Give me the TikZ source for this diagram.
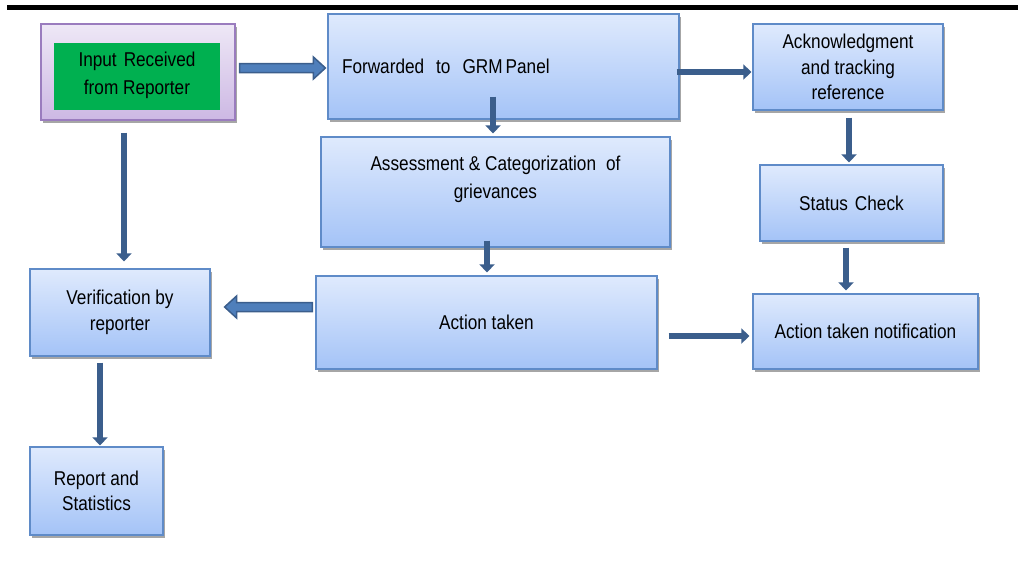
\documentclass[tikz,border=0pt]{standalone}
\usepackage{fontspec}
\setmainfont[FakeStretch=0.86]{Liberation Sans}
\usetikzlibrary{arrows.meta,shadows,calc}
\definecolor{boxtop}{HTML}{DFEAFD}
\definecolor{boxbot}{HTML}{A4C3F7}
\definecolor{boxborder}{HTML}{5F8BC8}
\definecolor{lavtop}{HTML}{EEE8F6}
\definecolor{lavbot}{HTML}{CDB8E4}
\definecolor{lavborder}{HTML}{9A7CBE}
\definecolor{ingreen}{HTML}{00B050}
\definecolor{arrowc}{HTML}{3B5E8C}
\definecolor{arrowfill}{HTML}{4F7FBB}
\begin{document}
\begin{tikzpicture}[x=1pt,y=-1pt,
  box/.style={draw=boxborder, line width=1.2pt, top color=boxtop, bottom color=boxbot,
    drop shadow={shadow xshift=2pt, shadow yshift=-2.5pt, fill=black, opacity=0.35},
    align=center, inner sep=0pt, font=\fontsize{20}{25.5}\selectfont},
  lavbox/.style={box, draw=lavborder, top color=lavtop, bottom color=lavbot},
  greenbox/.style={fill=ingreen, inner sep=0pt, align=center, font=\fontsize{20}{28}\selectfont},
  conn/.style={draw=arrowc, line width=6.5pt, -{Triangle[width=15pt,length=8pt]}},
  barrow/.style={fill=arrowfill, draw=arrowc, line width=1.5pt, line join=miter}
]
\useasboundingbox (0,0) rectangle (1021,573);
\draw[line width=4.5pt] (7,7.5) -- (1018,7.5);

\node[lavbox, minimum width=194pt, minimum height=96pt] (in) at (138,72) {};
\node[greenbox, minimum width=166pt, minimum height=67pt] (ing) at (137,76.5) {Input\hspace{7pt}Received\\from Reporter\\[-22pt]};
\node[box, minimum width=351pt, minimum height=105pt, text width=323pt, inner xsep=14pt, align=left] (fwd) at (503.5,66.5) {Forwarded\hspace{12pt}to\hspace{12pt}GRM\hspace{3pt}Panel};
\node[box, minimum width=349pt, minimum height=110pt] (ass) at (495.5,192) {};
\node[align=center, font=\fontsize{20}{28}\selectfont, inner sep=0pt] (asst) at ($(ass.center)+(0,-13)$) {Assessment \& Categorization\hspace{10pt}of\\grievances};
\node[box, minimum width=190pt, minimum height=86pt] (ack) at (848,67) {Acknowledgment\\and tracking\\reference};
\node[box, minimum width=183pt, minimum height=76pt] (stat) at (851.5,203) {Status\hspace{7pt}Check};
\node[box, minimum width=180pt, minimum height=87pt] (ver) at (120,312.5) {Verification by\\reporter};
\node[box, minimum width=341pt, minimum height=93pt] (act) at (486.5,322.5) {Action taken};
\node[box, minimum width=225pt, minimum height=75pt] (atn) at (865.5,331.5) {Action taken notification};
\node[box, minimum width=133pt, minimum height=88pt] (rep) at (96.5,491) {Report and\\Statistics};

% block arrow: input -> forwarded
\coordinate (b1s) at ($(in.east)+(4,-4)$);
\coordinate (b1e) at ($(fwd.west)+(-2,1.5)$);
\draw[barrow] ($(b1s)+(0,-4.5)$) -- ($(b1e)+(-12,-4.5)$) -- ($(b1e)+(-12,-11)$) -- (b1e)
  -- ($(b1e)+(-12,11)$) -- ($(b1e)+(-12,4.5)$) -- ($(b1s)+(0,4.5)$) -- cycle;

% block arrow: action taken -> verification
\coordinate (b2s) at ($(act.west)+(-3,-15.5)$);
\coordinate (b2e) at ($(ver.east)+(14,-5.5)$);
\draw[barrow] ($(b2s)+(0,-4.5)$) -- ($(b2e)+(12,-4.5)$) -- ($(b2e)+(12,-11)$) -- (b2e)
  -- ($(b2e)+(12,11)$) -- ($(b2e)+(12,4.5)$) -- ($(b2s)+(0,4.5)$) -- cycle;

\draw[conn] ($(fwd.south)+(-10.5,-23)$) -- ($(ass.north)+(-2.5,-3)$);
\draw[conn] ($(fwd.east)+(-3,5.5)$) -- ($(ack.west)+(-1,5)$);
\draw[conn] ($(ack.south)+(1,7)$) -- ($(stat.north)+(-2.5,-2)$);
\draw[conn] ($(stat.south)+(-5.5,6)$) -- ($(atn.north)+(-19.5,-3)$);
\draw[conn] ($(ass.south)+(-8.5,-7)$) -- ($(act.north)+(0.5,-3)$);
\draw[conn] ($(act.east)+(11,13.5)$) -- ($(atn.west)+(-3,4.5)$);
\draw[conn] ($(in.south)+(-14,12)$) -- ($(ver.north)+(4,-7)$);
\draw[conn] ($(ver.south)+(-20,6)$) -- ($(rep.north)+(3.5,-1)$);
\end{tikzpicture}
\end{document}
